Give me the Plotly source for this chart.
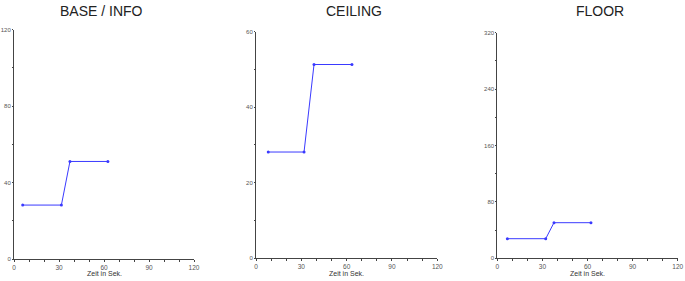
import plotly.graph_objects as go

W, H = 685, 281

titles = ["BASE / INFO", "CEILING", "FLOOR"]

base_x = [5.8, 31.6, 37.3, 62.6]
base_y = [28.2, 28.2, 51.0, 51.0]
ceil_x = [8.1, 31.8, 38.4, 63.5]
ceil_y = [28.1, 28.1, 51.3, 51.3]
floor_x = [6.7, 32.2, 37.7, 62.3]
floor_y = [27.8, 27.8, 50.5, 50.5]

x_ticks = [0, 30, 60, 90, 120]
y_ranges = [120, 60, 320]
y_label_steps = [40, 20, 80]
y_minor_steps = [20, 10, 40]
x_title = "Zeit in Sek."

series = [(base_x, base_y), (ceil_x, ceil_y), (floor_x, floor_y)]

# pixel boxes: (left, right, top, bottom)
boxes = [(14, 194, 29.5, 259), (256, 437.3, 31.7, 258), (497.3, 677.7, 32.7, 258.3)]
title_x = [101, 354, 600]

fig = go.Figure()
line_color = "#3a3aff"
axis_color = "#444444"
tick_font = dict(family="Liberation Sans, Arial", size=6.5, color="#555555")
ytick_font = dict(family="Liberation Sans, Arial", size=6, color="#555555")
xtitle_font = dict(family="Liberation Sans, Arial", size=7, color="#333333")

for i, ((xs, ys), (l, r, t, b)) in enumerate(zip(series, boxes)):
    n = "" if i == 0 else str(i + 1)
    fig.add_trace(go.Scatter(
        x=xs, y=ys, mode="lines+markers",
        line=dict(color=line_color, width=1),
        marker=dict(color=line_color, size=3),
        xaxis="x" + n, yaxis="y" + n, showlegend=False, hoverinfo="skip"))
    ymax = y_ranges[i]
    fig.layout["xaxis" + n] = dict(
        domain=[l / W, r / W], range=[0, 120], anchor="y" + n,
        tickvals=x_ticks, ticktext=[str(v) for v in x_ticks],
        ticks="outside", ticklen=2, tickcolor=axis_color, tickwidth=1,
        minor=dict(dtick=10, ticks="outside", ticklen=2, tickcolor=axis_color, tick0=0),
        showline=True, linecolor=axis_color, linewidth=1,
        showgrid=False, zeroline=False, tickfont=tick_font,
        automargin=False, fixedrange=True)
    yt = list(range(0, ymax + 1, y_label_steps[i]))
    fig.layout["yaxis" + n] = dict(
        domain=[(H - b) / H, (H - t) / H], range=[0, ymax], anchor="x" + n,
        tickvals=yt, ticktext=[str(v) for v in yt],
        ticks="outside", ticklen=1, tickcolor=axis_color, tickwidth=1,
        minor=dict(dtick=y_minor_steps[i], ticks="outside", ticklen=1, tickcolor=axis_color, tick0=0),
        showline=True, linecolor=axis_color, linewidth=1,
        showgrid=False, zeroline=False, tickfont=ytick_font, ticklabelstandoff=0,
        automargin=False, fixedrange=True)
    fig.add_annotation(text=titles[i], x=title_x[i] / W, y=1 - 11 / H,
                       xref="paper", yref="paper", showarrow=False,
                       xanchor="center", yanchor="middle",
                       font=dict(family="Liberation Sans, Arial", size=14, color="#222222"))
    fig.add_annotation(text=x_title, x=(l + r) / 2 / W, y=(H - 273) / H,
                       xref="paper", yref="paper", showarrow=False,
                       xanchor="center", yanchor="middle", font=xtitle_font)

fig.update_layout(width=W, height=H, margin=dict(l=0, r=0, t=0, b=0, autoexpand=False),
                  paper_bgcolor="white", plot_bgcolor="white")
fig.write_html("out.html", config={"displayModeBar": False},
               post_script="document.body.style.margin='0';document.body.style.padding='0';")
